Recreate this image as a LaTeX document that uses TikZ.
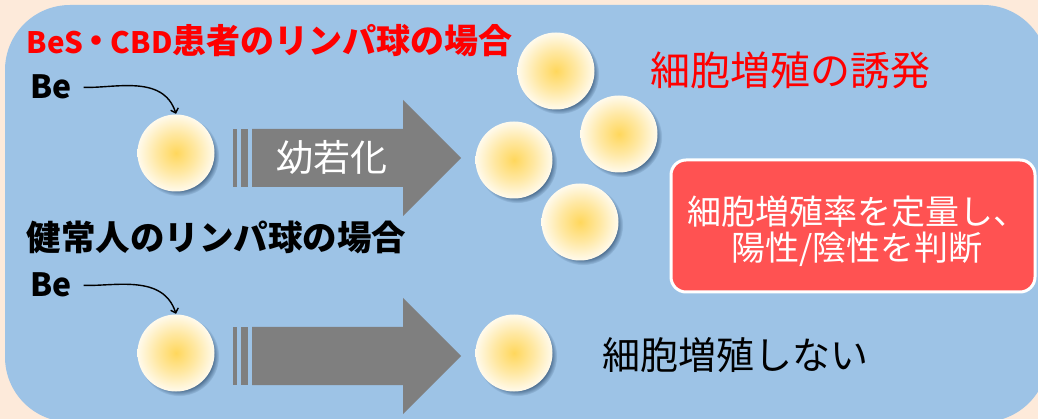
\documentclass[tikz,border=0pt]{standalone}
\usepackage{fontspec}
\setmainfont{Carlito}
\newfontfamily\jp{Noto Sans CJK JP}
\usetikzlibrary{arrows.meta,shadows}

\definecolor{bgpeach}{HTML}{FDEADA}
\definecolor{bgblue}{HTML}{9DC3E6}
\definecolor{arrowgray}{HTML}{7F7F7F}
\definecolor{titlered}{HTML}{FF0000}
\definecolor{boxred}{HTML}{FF5252}
\definecolor{cellcore}{HTML}{FFD75C}
\definecolor{cellmid}{HTML}{FFE8A3}
\definecolor{cellrim}{HTML}{FFFAEC}
\definecolor{cellshadow}{HTML}{3F5F80}

% yolk-like fill of a lymphocyte
\pgfdeclareradialshading{cellfill}{\pgfpoint{0bp}{0bp}}{%
    color(0bp)=(cellcore); color(13bp)=(cellmid);
    color(25bp)=(cellrim); color(50bp)=(cellrim)}

\begin{document}
\begin{tikzpicture}[
                    x=1pt, y=-1pt,
                    >={Straight Barb[length=4pt,width=8pt]},
                    line width=1.4pt
                ]
                \tikzstyle{cell}=[circle,minimum size=77pt,inner sep=0pt,
                    shade,shading=cellfill,
                    circular drop shadow={shadow xshift=3pt,shadow yshift=-3pt,
                        shadow scale=1.04,fill=cellshadow,opacity=.8}]
                \tikzstyle{label}=[inner sep=0pt,anchor=west]

                % page and panel
                \useasboundingbox (0,0) rectangle (1038,419);
                \fill[bgpeach] (0,0) rectangle (1038,419);
                \fill[bgblue,rounded corners=65pt] (5,5) rectangle (1048,422);

                % block arrows
                \foreach \y in {158,356} {
                    \fill[arrowgray] (233,\y-29) rectangle (237,\y+29);
                    \fill[arrowgray] (241,\y-29) rectangle (248,\y+29);
                    \fill[arrowgray] (252,\y-29) -- (403,\y-29) -- (403,\y-58)
                        -- (461,\y) -- (403,\y+58) -- (403,\y+29) -- (252,\y+29) -- cycle;
                }
                \node[text=white,font=\jp\fontsize{37}{37}\selectfont] (yj) at (332,157) {幼若化};

                % patient lymphocytes
                \node[label,text=titlered,font=\jp\bfseries\fontsize{34}{34}\selectfont] (t1) at (26,41)
                    {{\fontsize{29.5}{29.5}\selectfont BeS}\kern-3pt・\kern-3pt{\fontsize{29.5}{29.5}\selectfont CBD}患者のリンパ球の場合};
                \node[label,font=\jp\bfseries\fontsize{32}{32}\selectfont] (be1) at (30,87) {Be};
                \node[cell] (c1) at (176,153) {};
                \draw[->,shorten <=11pt] (be1.east) to[out=-2,in=108] (c1.north);

                \node[cell] (p1) at (556,71) {};
                \node[cell] (p2) at (619,134) {};
                \node[cell] (p3) at (514,160) {};
                \node[cell] (p4) at (580,222) {};
                \node[text=titlered,font=\jp\fontsize{40}{40}\selectfont] (up) at (790,70) {細胞増殖の誘発};

                % healthy lymphocytes
                \node[label,font=\jp\bfseries\fontsize{34.5}{34.5}\selectfont] (t2) at (26,237)
                    {健常人のリンパ球の場合};
                \node[label,font=\jp\bfseries\fontsize{32}{32}\selectfont] (be2) at (30,285) {Be};
                \node[cell] (c2) at (176,353) {};
                \draw[->,shorten <=11pt] (be2.east) to[out=-2,in=108] (c2.north);

                \node[cell] (q) at (514,353) {};
                \node[font=\jp\fontsize{38}{38}\selectfont] (none) at (735,355) {細胞増殖しない};

                % result box
                \node[fill=boxred,draw=white,line width=3pt,rounded corners=15pt,
                      minimum width=364pt,minimum height=132pt] (res) at (853,226) {};
                \node[align=center,text=white,font=\jp\fontsize{34}{36}\selectfont]
                    (restext) at (857,231) {細胞増殖率を定量し、\\陽性/陰性を判断};

            \end{tikzpicture}
\end{document}
